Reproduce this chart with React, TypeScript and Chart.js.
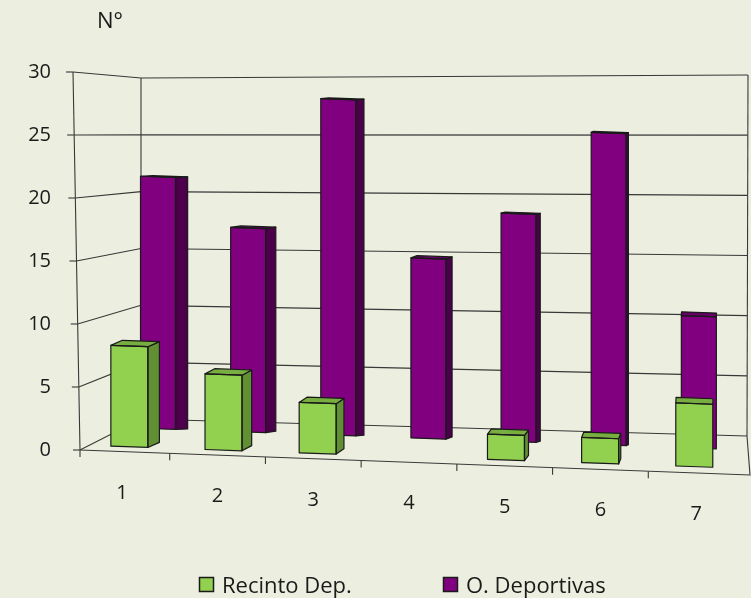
import React, { useEffect, useRef } from 'react';
import { Chart, registerables } from 'chart.js';

Chart.register(...registerables);

// ---------- data ----------
const categories = ['1', '2', '3', '4', '5', '6', '7'];
const recintoDep = [8, 6, 4, 0, 2, 2, 5];
const oDeportivas = [21, 17, 28, 15, 19, 26, 11];
const seriesNames = ['Recinto Dep.', 'O. Deportivas'];
const yMin = 0;
const yMax = 30;
const yStep = 5;
const axisTitle = 'N°';

// ---------- style ----------
const W = 751;
const H = 598;
const BG = '#ECEFDF';
const FONT = '"Open Sans", "Noto Sans", "DejaVu Sans", sans-serif';
const TEXT = '#1a1a1a';
const LINE = '#383838';
const EDGE = '#1a1a1a';
const GREEN = { front: '#92D050', side: '#618F34', top: '#78AE40' };
const PURPLE = { front: '#800080', side: '#4C004C', top: '#690069' };

// 3-D frame (projection of walls and floor)
const FRAME = {
  frontTopX: 73,
  frontBotX: 80,
  backLX: 141,
  backTopL: 78,
  backBotL: 419,
  backRXTop: 748,
  backRXBot: 747,
  backTopR: 75,
  backBotR: 436,
  floorFrontRX: 750,
  floorFrontRY: 475,
  tickLen: 7,
  vanishX: 725,
};

// projection of each series row (index 0 = front green row, 1 = purple row)
const PLANES = [
  { shear: 0.035, x0: 134, dy: -3, depth: 0.02, faces: GREEN, topDy: (_t: number) => 5.5 },
  {
    shear: 0.0357,
    x0: 162,
    dy: 0,
    depth: 0.0221,
    faces: PURPLE,
    topDy: (t: number) => Math.min(5, Math.max(1, (t - 150) * 0.025)),
  },
];

const threeD = {
  id: 'threeD',
  beforeDraw(chart: any) {
    const ctx = chart.ctx;
    ctx.save();
    ctx.fillStyle = BG;
    ctx.fillRect(0, 0, chart.width, chart.height);
    ctx.restore();
  },
  beforeDatasetsDraw(chart: any) {
    const ctx = chart.ctx;
    const ys = chart.scales.y;
    const xl = chart.scales.xl;
    const frac = (v: number) => (ys.getPixelForValue(v) - ys.top) / (ys.bottom - ys.top);
    ctx.save();
    ctx.strokeStyle = LINE;
    ctx.lineWidth = 1.1;
    const seg = (pts: number[][]) => {
      ctx.beginPath();
      ctx.moveTo(pts[0][0], pts[0][1]);
      for (let i = 1; i < pts.length; i++) ctx.lineTo(pts[i][0], pts[i][1]);
      ctx.stroke();
    };
    ys.ticks.forEach((tk: any) => {
      const v = tk.value;
      const f = frac(v);
      const yf = ys.getPixelForValue(v);
      const xf = FRAME.frontTopX + (FRAME.frontBotX - FRAME.frontTopX) * f;
      const yl = FRAME.backTopL + (FRAME.backBotL - FRAME.backTopL) * f;
      const yr = FRAME.backTopR + (FRAME.backBotR - FRAME.backTopR) * f;
      const xr = FRAME.backRXTop + (FRAME.backRXBot - FRAME.backRXTop) * f;
      seg([[xf - FRAME.tickLen, yf], [xf, yf]]);
      seg([[xf, yf], [FRAME.backLX, yl], [xr, yr]]);
    });
    const yTop = ys.getPixelForValue(yMax);
    const yBot = ys.getPixelForValue(yMin);
    seg([[FRAME.frontTopX, yTop], [FRAME.frontBotX, yBot]]);
    seg([[FRAME.backLX, FRAME.backTopL], [FRAME.backLX, FRAME.backBotL]]);
    seg([[FRAME.backRXTop, FRAME.backTopR], [FRAME.backRXBot, FRAME.backBotR]]);
    seg([[FRAME.frontBotX, yBot], [FRAME.floorFrontRX, FRAME.floorFrontRY], [FRAME.backRXBot, FRAME.backBotR]]);
    const slope = (FRAME.floorFrontRY - yBot) / (FRAME.floorFrontRX - FRAME.frontBotX);
    const tickXs = [FRAME.frontBotX];
    for (let i = 0; i < categories.length - 1; i++) tickXs.push(xl.getPixelForValue(i + 0.5));
    tickXs.forEach((x) => {
      const y = yBot + (x - FRAME.frontBotX) * slope;
      seg([[x, y], [x, y + FRAME.tickLen]]);
    });
    ctx.restore();
  },
  beforeDatasetDraw(chart: any, args: any) {
    const p = PLANES[args.index];
    const ctx = chart.ctx;
    ctx.save();
    ctx.transform(1, p.shear, 0, 1, 0, -p.shear * p.x0 + p.dy);
  },
  afterDatasetDraw(chart: any, args: any) {
    const p = PLANES[args.index];
    const ctx = chart.ctx;
    ctx.lineWidth = 1.2;
    ctx.strokeStyle = EDGE;
    ctx.lineJoin = 'round';
    args.meta.data.forEach((el: any) => {
      const { x, y, base, width } = el.getProps(['x', 'y', 'base', 'width'], true);
      const top = Math.min(y, base);
      const bot = Math.max(y, base);
      if (bot - top < 0.5) return;
      const xL = x - width / 2;
      const xR = x + width / 2;
      const dx = Math.max(0, p.depth * (FRAME.vanishX - xR));
      const dy = p.topDy(top);
      if (dx > 0.3) {
        ctx.beginPath();
        ctx.moveTo(xR, top);
        ctx.lineTo(xR + dx, top - dy);
        ctx.lineTo(xR + dx, bot - dy);
        ctx.lineTo(xR, bot);
        ctx.closePath();
        ctx.fillStyle = p.faces.side;
        ctx.fill();
        ctx.stroke();
      }
      ctx.beginPath();
      ctx.moveTo(xL, top);
      ctx.lineTo(xL + dx, top - dy);
      ctx.lineTo(xR + dx, top - dy);
      ctx.lineTo(xR, top);
      ctx.closePath();
      ctx.fillStyle = p.faces.top;
      ctx.fill();
      ctx.stroke();
      ctx.strokeRect(xL, top, width, bot - top);
    });
    ctx.restore();
  },
  afterDraw(chart: any) {
    const ctx = chart.ctx;
    const xl = chart.scales.xl;
    ctx.save();
    ctx.fillStyle = TEXT;
    ctx.font = `20px ${FONT}`;
    ctx.textAlign = 'center';
    ctx.textBaseline = 'alphabetic';
    categories.forEach((c, i) => {
      const x = xl.getPixelForValue(i);
      const y = 499 + (x - 122) * 0.0365;
      ctx.fillText(c, x, y);
    });
    ctx.font = `22px ${FONT}`;
    ctx.textAlign = 'left';
    ctx.fillText(axisTitle, 97, 28);
    const items = [
      { x: 199, text: seriesNames[0], color: GREEN.front },
      { x: 443, text: seriesNames[1], color: PURPLE.front },
    ];
    items.forEach((it) => {
      ctx.fillStyle = it.color;
      ctx.fillRect(it.x, 577, 15, 15);
      ctx.strokeStyle = EDGE;
      ctx.lineWidth = 1.5;
      ctx.strokeRect(it.x + 0.5, 577.5, 14, 14);
      ctx.fillStyle = TEXT;
      ctx.fillText(it.text, it.x + 23, 593);
    });
    ctx.restore();
  },
};

export default function App() {
  const ref = useRef<HTMLCanvasElement | null>(null);

  useEffect(() => {
    document.body.style.margin = '0';
    document.body.style.background = BG;
    const canvas = ref.current;
    if (!canvas) return;
    const chart = new Chart(canvas, {
      type: 'bar',
      data: {
        datasets: [
          {
            label: seriesNames[0],
            data: recintoDep.map((v, i) => ({ x: i, y: v })),
            xAxisID: 'x',
            yAxisID: 'y',
            backgroundColor: GREEN.front,
            borderWidth: 0,
            inflateAmount: 0,
            grouped: false,
            barThickness: 37,
            clip: false as any,
          },
          {
            label: seriesNames[1],
            data: oDeportivas.map((v, i) => ({ x: i, y: v })),
            xAxisID: 'x2',
            yAxisID: 'y2',
            backgroundColor: PURPLE.front,
            borderWidth: 0,
            inflateAmount: 0,
            grouped: false,
            barThickness: 35,
            clip: false as any,
          },
        ],
      } as any,
      options: {
        animation: false,
        responsive: false,
        devicePixelRatio: 1,
        layout: { padding: { top: 72, right: 7, bottom: 0, left: 0 } },
        plugins: { legend: { display: false }, tooltip: { enabled: false }, title: { display: false } },
        scales: {
          x: {
            type: 'linear',
            position: 'bottom',
            min: -0.588,
            max: 6.528,
            offset: false,
            grid: { display: false, drawTicks: false, offset: false },
            border: { display: false },
            ticks: { display: false },
            afterFit: (s: any) => {
              s.height = 148;
            },
          },
          x2: { type: 'linear', position: 'bottom', min: -0.932, max: 6.501, offset: false, display: false },
          xl: { type: 'linear', position: 'bottom', min: -0.5, max: 6.5, offset: false, display: false },
          y: {
            type: 'linear',
            position: 'left',
            min: yMin,
            max: yMax,
            ticks: { stepSize: yStep, padding: 23, color: TEXT, font: { family: FONT, size: 20 } },
            grid: { display: false, drawTicks: false },
            border: { display: false },
            afterFit: (s: any) => {
              s.width = 74;
            },
          },
          y2: { type: 'linear', position: 'left', min: -1.75, max: 29.75, display: false },
        },
      } as any,
      plugins: [threeD],
    });
    return () => chart.destroy();
  }, []);

  return (
    <div style={{ width: W, height: H, background: BG }}>
      <canvas ref={ref} width={W} height={H} style={{ display: 'block' }} />
    </div>
  );
}
